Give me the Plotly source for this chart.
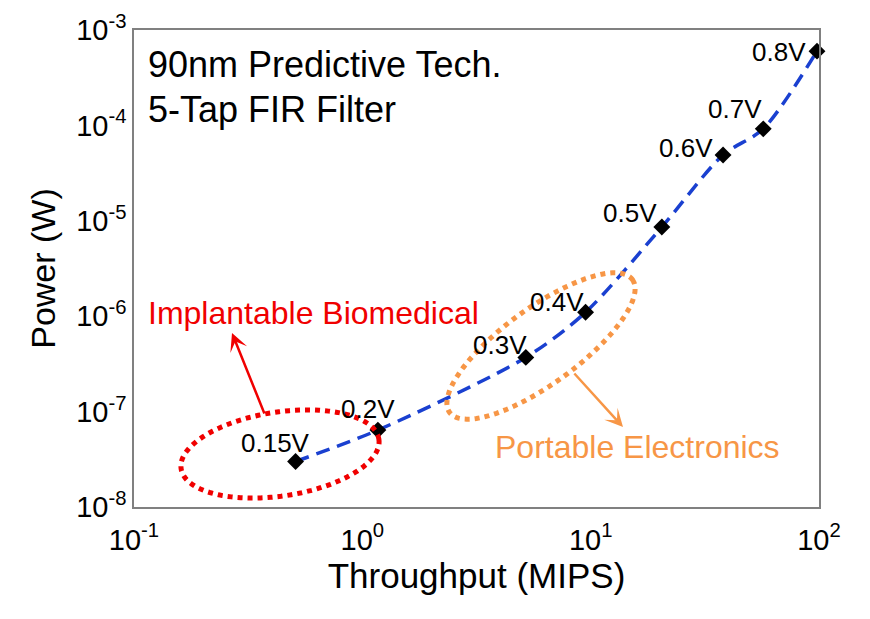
import numpy as np
import plotly.graph_objects as go

# --- data ---
supply_voltage = ["0.15V", "0.2V", "0.3V", "0.4V", "0.5V", "0.6V", "0.7V", "0.8V"]
throughput_mips = [0.51, 1.17, 5.2, 9.5, 20.5, 38, 57, 98]
power_w = [3.0e-8, 6.4e-8, 3.7e-7, 1.1e-6, 8.6e-6, 4.9e-5, 9.2e-5, 6.0e-4]

x_tick_vals = [0.1, 1, 10, 100]
x_tick_text = ["10<sup>-1</sup>", "10<sup>0</sup>", "10<sup>1</sup>", "10<sup>2</sup>"]
y_tick_vals = [1e-8, 1e-7, 1e-6, 1e-5, 1e-4, 1e-3]
y_tick_text = ["10<sup>-8</sup>", "10<sup>-7</sup>", "10<sup>-6</sup>",
               "10<sup>-5</sup>", "10<sup>-4</sup>", "10<sup>-3</sup>"]

# label offsets (pixels) of the voltage tags from their points
label_dx = [-20, -10, -26, -29, -32, -37, -28, -38]
label_dy = [18, 21, 12, 10, 14, 7, 20, -1]

# --- geometry (page pixels); the page body adds an 8px margin ---
PAGE_OFF = 8
W, H = 870 - PAGE_OFF, 619 - PAGE_OFF
PLOT_X0, PLOT_X1, PLOT_Y0, PLOT_Y1 = 134, 819, 30, 507
M_L, M_T = PLOT_X0 - PAGE_OFF, PLOT_Y0 - PAGE_OFF
M_R, M_B = W - (PLOT_X1 - PAGE_OFF), H - (PLOT_Y1 - PAGE_OFF)
PW, PH = PLOT_X1 - PLOT_X0, PLOT_Y1 - PLOT_Y0

FONT = "Liberation Sans, Arial, sans-serif"
BLUE = "#1a40d0"
RED = "#f00000"
ORANGE = "#f79646"


def to_paper(px, py):
    return (px - PLOT_X0) / PW, (PLOT_Y1 - py) / PH


def ellipse_path(cx, cy, a, b, angle_deg, n=120):
    t = np.linspace(0, 2 * np.pi, n, endpoint=False)
    ang = np.radians(angle_deg)
    xs = cx + a * np.cos(t) * np.cos(ang) + b * np.sin(t) * np.sin(ang)
    ys = cy - a * np.cos(t) * np.sin(ang) + b * np.sin(t) * np.cos(ang)
    pts = [to_paper(x, y) for x, y in zip(xs, ys)]
    return "M " + " L ".join(f"{x:.4f},{y:.4f}" for x, y in pts) + " Z"


fig = go.Figure()

fig.add_trace(go.Scatter(
    x=throughput_mips, y=power_w, mode="lines",
    line=dict(color=BLUE, width=3.5, dash="14px,8px", shape="spline", smoothing=0.8),
    hoverinfo="skip", cliponaxis=False
))
fig.add_trace(go.Scatter(
    x=throughput_mips, y=power_w, mode="markers",
    marker=dict(symbol="diamond", size=13, color="black"),
    text=supply_voltage, hovertemplate="%{text}: %{x} MIPS, %{y} W<extra></extra>",
    cliponaxis=False
))

annotations = []
for lbl, xv, yv, dx, dy in zip(supply_voltage, throughput_mips, power_w, label_dx, label_dy):
    annotations.append(dict(
        x=np.log10(xv), y=np.log10(yv), xref="x", yref="y", text=lbl,
        showarrow=False, xanchor="center", yanchor="middle",
        xshift=dx, yshift=dy, font=dict(size=26, color="black", family=FONT)
    ))

# header
hx, hy1 = to_paper(146, 64)
_, hy2 = to_paper(146, 109)
annotations.append(dict(x=hx, y=hy1, xref="paper", yref="paper", text="90nm Predictive Tech.",
                        showarrow=False, xanchor="left", yanchor="middle",
                        font=dict(size=36, color="black", family=FONT)))
annotations.append(dict(x=hx, y=hy2, xref="paper", yref="paper", text="5-Tap FIR Filter",
                        showarrow=False, xanchor="left", yanchor="middle",
                        font=dict(size=36, color="black", family=FONT)))

# region labels
ix, iy = to_paper(146, 313)
annotations.append(dict(x=ix, y=iy, xref="paper", yref="paper", text="Implantable Biomedical",
                        showarrow=False, xanchor="left", yanchor="middle",
                        font=dict(size=32, color=RED, family=FONT)))
px_, py_ = to_paper(493, 447)
annotations.append(dict(x=px_, y=py_, xref="paper", yref="paper", text="Portable Electronics",
                        showarrow=False, xanchor="left", yanchor="middle",
                        font=dict(size=32, color=ORANGE, family=FONT)))

# arrows
rx, ry = to_paper(232, 333)
annotations.append(dict(x=rx, y=ry, xref="paper", yref="paper", text="", showarrow=True,
                        ax=33, ay=82, arrowhead=3, arrowsize=1.2, arrowwidth=2.5,
                        arrowcolor=RED))
ox, oy = to_paper(623, 427)
annotations.append(dict(x=ox, y=oy, xref="paper", yref="paper", text="", showarrow=True,
                        ax=-50, ay=-55, arrowhead=3, arrowsize=1.2, arrowwidth=2.5,
                        arrowcolor=ORANGE))

shapes = [
    dict(type="path", xref="paper", yref="paper", path=ellipse_path(280, 454, 100, 42, 8.5),
         line=dict(color=RED, width=5, dash="dot")),
    dict(type="path", xref="paper", yref="paper", path=ellipse_path(541, 346, 113, 38, 36),
         line=dict(color=ORANGE, width=5, dash="dot")),
]

axis_common = dict(
    showgrid=False, zeroline=False, showline=True, linecolor="#808080", linewidth=1.5,
    mirror=True, ticks="", tickfont=dict(size=29, color="black", family=FONT),
)

fig.update_layout(
    width=W, height=H,
    margin=dict(l=M_L, r=M_R, t=M_T, b=M_B, autoexpand=False),
    paper_bgcolor="white", plot_bgcolor="white",
    showlegend=False,
    font=dict(family=FONT, color="black"),
    xaxis=dict(type="log", range=[-1, 2], tickvals=x_tick_vals, ticktext=x_tick_text,
               ticklabelstandoff=6,
               title=dict(text="Throughput (MIPS)", font=dict(size=35, family=FONT), standoff=0),
               **axis_common),
    yaxis=dict(type="log", range=[-8, -3], tickvals=y_tick_vals, ticktext=y_tick_text,
               title=dict(text="Power (W)", font=dict(size=34, family=FONT), standoff=10),
               **axis_common),
    annotations=annotations,
    shapes=shapes,
)

fig.write_html("out.html")
